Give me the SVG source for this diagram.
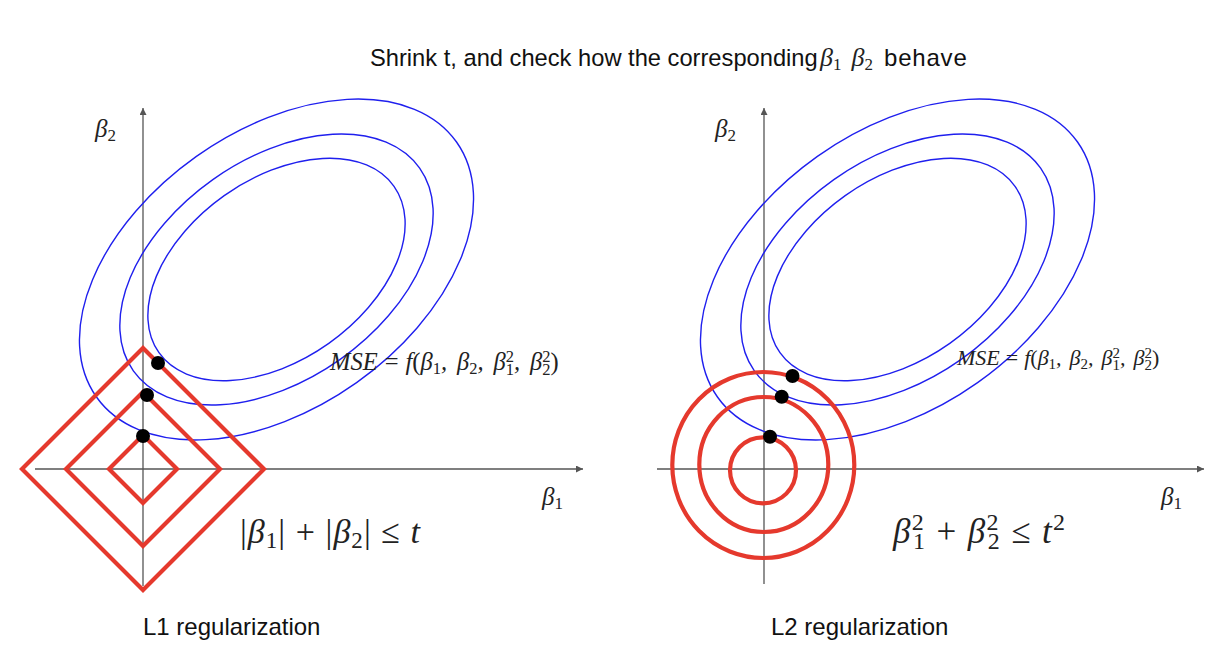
<svg xmlns="http://www.w3.org/2000/svg" width="1220" height="672" viewBox="0 0 1220 672">
<style>
.ax{stroke:#555;stroke-width:1.3;fill:none}
.ell{stroke:#1f1fee;stroke-width:1.4;fill:none}
.con{stroke:#e5392d;stroke-width:4.2;fill:none;stroke-linejoin:miter}
.dot{fill:#000}
.sans{font-family:"Liberation Sans",Arial,sans-serif;fill:#111}
.math{font-family:"Liberation Serif","Times New Roman",serif;fill:#222}
.it{font-style:italic}
.up{font-style:normal}
</style>
<defs>
<marker id="arr" viewBox="0 0 10 10" refX="10" refY="5" markerWidth="9" markerHeight="7" markerUnits="userSpaceOnUse" orient="auto">
<path d="M0,0 L10,5 L0,10 Z" fill="#555"/>
</marker>
</defs>
<rect width="1220" height="672" fill="#fff"/>

<g id="title">
<text class="sans" x="370" y="66" font-size="23.7">Shrink t, and check how the corresponding</text>
<text class="math it" x="820" y="66" font-size="26">β<tspan class="up" font-size="17" dy="4">1</tspan><tspan dx="10" dy="-4">β</tspan><tspan class="up" font-size="17" dy="4">2</tspan></text>
<text class="sans" x="884" y="66" font-size="24" letter-spacing="0.8">behave</text>
</g>

<g id="left-panel">
<g id="left-axes">
<line class="ax" x1="143" y1="586" x2="143" y2="108" marker-end="url(#arr)"/>
<line class="ax" x1="35" y1="469" x2="583" y2="469" marker-end="url(#arr)"/>
<text class="math it" x="95" y="137" font-size="25">β<tspan class="up" font-size="17" dy="4">2</tspan></text>
<text class="math it" x="542" y="505" font-size="25">β<tspan class="up" font-size="17" dy="4">1</tspan></text>
</g>
<g id="left-contours" transform="rotate(-35.3 276.5 269.5)">
<ellipse class="ell" cx="276.5" cy="269.5" rx="220.6" ry="138.6"/>
<ellipse class="ell" cx="276.5" cy="269.5" rx="175.4" ry="110.2"/>
<ellipse class="ell" cx="276.5" cy="269.5" rx="144" ry="90.5"/>
</g>
<g id="l1-constraints">
<path class="con" d="M143,348 L264,469 L143,590 L22,469 Z"/>
<path class="con" d="M143,392 L220,469 L143,546 L66,469 Z"/>
<path class="con" d="M143,435 L177,469 L143,503 L109,469 Z"/>
</g>
<g id="left-dots">
<circle class="dot" cx="158" cy="363" r="7"/>
<circle class="dot" cx="147" cy="395" r="7"/>
<circle class="dot" cx="143" cy="436" r="7"/>
</g>
<text id="left-mse" class="math it" x="330" y="370" font-size="24.5">MSE<tspan class="up" dx="7">=</tspan><tspan dx="7">f</tspan><tspan class="up">(</tspan>β<tspan class="up" font-size="16.5" dy="4">1</tspan><tspan dy="-4">,</tspan><tspan dx="10">β</tspan><tspan class="up" font-size="16.5" dy="4">2</tspan><tspan dy="-4">,</tspan><tspan dx="10">β</tspan><tspan class="up" font-size="16.5" dy="-8">2</tspan><tspan class="up" font-size="16.5" dx="-8.3" dy="13">1</tspan><tspan dy="-5">,</tspan><tspan dx="10">β</tspan><tspan class="up" font-size="16.5" dy="-8">2</tspan><tspan class="up" font-size="16.5" dx="-8.3" dy="13">2</tspan><tspan class="up" dy="-5">)</tspan></text>
<text id="l1-formula" class="math" x="240" y="543" font-size="34" textLength="180" lengthAdjust="spacing">|<tspan class="it">β</tspan><tspan font-size="23" dy="5">1</tspan><tspan dy="-5">| + |</tspan><tspan class="it">β</tspan><tspan font-size="23" dy="5">2</tspan><tspan dy="-5">| ≤ </tspan><tspan class="it">t</tspan></text>
<text id="l1-label" class="sans" x="143" y="635" font-size="24">L1 regularization</text>
</g>

<g id="right-panel">
<g id="right-axes">
<line class="ax" x1="764" y1="584" x2="764" y2="108" marker-end="url(#arr)"/>
<line class="ax" x1="657" y1="469" x2="1204" y2="469" marker-end="url(#arr)"/>
<text class="math it" x="715" y="137" font-size="25">β<tspan class="up" font-size="17" dy="4">2</tspan></text>
<text class="math it" x="1161" y="505" font-size="25">β<tspan class="up" font-size="17" dy="4">1</tspan></text>
</g>
<g id="right-contours" transform="translate(621 0) rotate(-35.3 276.5 269.5)">
<ellipse class="ell" cx="276.5" cy="269.5" rx="220.6" ry="138.6"/>
<ellipse class="ell" cx="276.5" cy="269.5" rx="175.4" ry="110.2"/>
<ellipse class="ell" cx="276.5" cy="269.5" rx="144" ry="90.5"/>
</g>
<g id="l2-constraints">
<ellipse class="con" cx="763.3" cy="465" rx="91" ry="93"/>
<ellipse class="con" cx="763.8" cy="464.5" rx="64.5" ry="67.5"/>
<circle class="con" cx="763" cy="470.3" r="33"/>
</g>
<g id="right-dots">
<circle class="dot" cx="792.5" cy="376" r="7"/>
<circle class="dot" cx="781.7" cy="396.7" r="7"/>
<circle class="dot" cx="770" cy="436.7" r="7"/>
</g>
<text id="right-mse" class="math it" x="957" y="365" font-size="22">MSE<tspan class="up" dx="6">=</tspan><tspan dx="6">f</tspan><tspan class="up">(</tspan>β<tspan class="up" font-size="15" dy="4">1</tspan><tspan dy="-4">,</tspan><tspan dx="8">β</tspan><tspan class="up" font-size="15" dy="4">2</tspan><tspan dy="-4">,</tspan><tspan dx="8">β</tspan><tspan class="up" font-size="15" dy="-7">2</tspan><tspan class="up" font-size="15" dx="-7.5" dy="12">1</tspan><tspan dy="-5">,</tspan><tspan dx="8">β</tspan><tspan class="up" font-size="15" dy="-7">2</tspan><tspan class="up" font-size="15" dx="-7.5" dy="12">2</tspan><tspan class="up" dy="-5">)</tspan></text>
<text id="l2-formula" class="math" x="893" y="543" font-size="35" textLength="172" lengthAdjust="spacing"><tspan class="it">β</tspan><tspan font-size="24" dy="-13">2</tspan><tspan font-size="24" dx="-12" dy="19">1</tspan><tspan dy="-6"> + </tspan><tspan class="it">β</tspan><tspan font-size="24" dy="-13">2</tspan><tspan font-size="24" dx="-12" dy="19">2</tspan><tspan dy="-6"> ≤ </tspan><tspan class="it">t</tspan><tspan font-size="24" dy="-13">2</tspan></text>
<text id="l2-label" class="sans" x="771" y="635" font-size="24">L2 regularization</text>
</g>
</svg>
